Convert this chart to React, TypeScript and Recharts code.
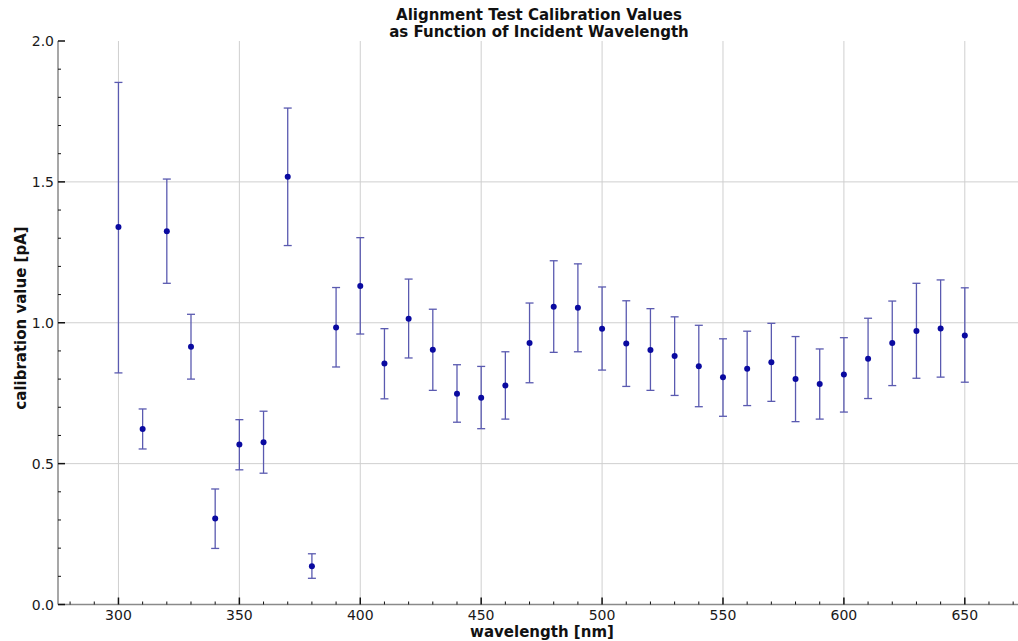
import { ScatterChart, Scatter, XAxis, YAxis, CartesianGrid, ErrorBar } from "recharts"

const wavelengths = [300, 310, 320, 330, 340, 350, 360, 370, 380, 390, 400, 410, 420, 430, 440, 450, 460, 470, 480, 490, 500, 510, 520, 530, 540, 550, 560, 570, 580, 590, 600, 610, 620, 630, 640, 650]
const calib = [1.34, 0.623, 1.325, 0.915, 0.305, 0.568, 0.576, 1.518, 0.136, 0.983, 1.13, 0.855, 1.014, 0.904, 0.748, 0.734, 0.777, 0.928, 1.057, 1.053, 0.979, 0.926, 0.903, 0.882, 0.846, 0.807, 0.837, 0.86, 0.8, 0.783, 0.816, 0.872, 0.928, 0.971, 0.98, 0.955]
const lowerBound = [0.822, 0.552, 1.14, 0.8, 0.199, 0.478, 0.466, 1.274, 0.093, 0.843, 0.96, 0.73, 0.875, 0.76, 0.647, 0.624, 0.658, 0.787, 0.895, 0.897, 0.832, 0.774, 0.76, 0.742, 0.702, 0.668, 0.706, 0.721, 0.649, 0.658, 0.683, 0.731, 0.777, 0.803, 0.807, 0.789]
const upperBound = [1.853, 0.694, 1.51, 1.03, 0.41, 0.656, 0.686, 1.762, 0.18, 1.125, 1.302, 0.979, 1.155, 1.048, 0.851, 0.845, 0.897, 1.07, 1.22, 1.209, 1.127, 1.078, 1.05, 1.021, 0.991, 0.943, 0.97, 0.998, 0.951, 0.907, 0.947, 1.016, 1.077, 1.14, 1.152, 1.124]

const xTicks = [280, 290, 300, 310, 320, 330, 340, 350, 360, 370, 380, 390, 400, 410, 420, 430, 440, 450, 460, 470, 480, 490, 500, 510, 520, 530, 540, 550, 560, 570, 580, 590, 600, 610, 620, 630, 640, 650, 660, 670]
const xMajor = [300, 350, 400, 450, 500, 550, 600, 650]
const yTicks = [0, 0.1, 0.2, 0.3, 0.4, 0.5, 0.6, 0.7, 0.8, 0.9, 1.0, 1.1, 1.2, 1.3, 1.4, 1.5, 1.6, 1.7, 1.8, 1.9, 2.0]
const yMajor = [0, 0.5, 1.0, 1.5, 2.0]

const rows = wavelengths.map((wl, i) => ({
  wl,
  val: calib[i],
  err: [calib[i] - lowerBound[i], upperBound[i] - calib[i]],
}))

const font = "'DejaVu Sans', sans-serif"
const isMajor = (v: number, list: number[]) => list.some((m) => Math.abs(m - v) < 1e-6)

// ticks point into the plot, like the original
function BottomTick(props: any) {
  const { x, y, payload } = props
  const major = isMajor(payload.value, xMajor)
  return (
    <g>
      <line x1={x} x2={x} y1={y} y2={y - (major ? 7 : 3)} stroke="#111" strokeWidth={major ? 1.5 : 1} />
      {major && (
        <text x={x} y={y + 15} textAnchor="middle" fontSize={14} fontFamily={font} fill="#1a1a1a">
          {payload.value}
        </text>
      )}
    </g>
  )
}

function TopTick(props: any) {
  const { x, y, payload } = props
  const major = isMajor(payload.value, xMajor)
  return <line x1={x} x2={x} y1={y} y2={y + (major ? 7 : 3)} stroke="#111" strokeWidth={major ? 1.5 : 1} />
}

function LeftTick(props: any) {
  const { x, y, payload } = props
  const major = isMajor(payload.value, yMajor)
  return (
    <g>
      <line x1={x} x2={x + (major ? 7 : 3)} y1={y} y2={y} stroke="#111" strokeWidth={major ? 1.5 : 1} />
      {major && (
        <text x={x - 4} y={y + 5} textAnchor="end" fontSize={14} fontFamily={font} fill="#1a1a1a">
          {payload.value.toFixed(1)}
        </text>
      )}
    </g>
  )
}

function Dot(props: any) {
  const { cx, cy } = props
  return <circle cx={cx} cy={cy} r={3} fill="#0a0aa0" />
}

export default function App() {
  return (
    <div style={{ position: "absolute", left: 0, top: 0, width: 1018, height: 641, background: "#fff" }}>
      <ScatterChart width={1018} height={641} margin={{ top: 41, right: 0, bottom: 0, left: 0 }}>
        <CartesianGrid
          stroke="#cfcfcf"
          strokeWidth={1}
          verticalValues={xMajor}
          horizontalValues={[0.5, 1.0, 1.5]}
        />
        <XAxis
          type="number"
          dataKey="wl"
          domain={[275, 672]}
          ticks={xTicks}
          allowDataOverflow
          height={36.5}
          tickSize={0}
          tickMargin={0}
          tickLine={false}
          interval={0}
          tick={<BottomTick />}
          axisLine={{ stroke: "#8a8a8a", strokeWidth: 1.5 }}
        />
        <XAxis
          xAxisId="top"
          orientation="top"
          type="number"
          domain={[275, 672]}
          ticks={xTicks}
          allowDataOverflow
          height={0}
          tickSize={0}
          tickMargin={0}
          tickLine={false}
          interval={0}
          tick={<TopTick />}
          axisLine={{ stroke: "#8a8a8a", strokeWidth: 1.5 }}
        />
        <YAxis
          type="number"
          dataKey="val"
          domain={[0, 2]}
          ticks={yTicks}
          allowDataOverflow
          width={58}
          tickSize={0}
          tickMargin={0}
          tickLine={false}
          interval={0}
          tick={<LeftTick />}
          axisLine={{ stroke: "#8a8a8a", strokeWidth: 1.5 }}
        />
        <Scatter data={rows} shape={<Dot />} isAnimationActive={false}>
          <ErrorBar dataKey="err" direction="y" width={4} stroke="#5a5ab0" strokeWidth={1.3} />
        </Scatter>
        <text x={539} y={20} textAnchor="middle" fontSize={15} fontWeight="bold" fontFamily={font} fill="#111">
          Alignment Test Calibration Values
        </text>
        <text x={539} y={37} textAnchor="middle" fontSize={15} fontWeight="bold" fontFamily={font} fill="#111">
          as Function of Incident Wavelength
        </text>
        <text x={542} y={637} textAnchor="middle" fontSize={15} fontWeight="bold" fontFamily={font} fill="#111">
          wavelength [nm]
        </text>
        <text
          x={26}
          y={318}
          transform="rotate(-90 26 318)"
          textAnchor="middle"
          fontSize={15}
          fontWeight="bold"
          fontFamily={font}
          fill="#111"
        >
          calibration value [pA]
        </text>
      </ScatterChart>
    </div>
  )
}
